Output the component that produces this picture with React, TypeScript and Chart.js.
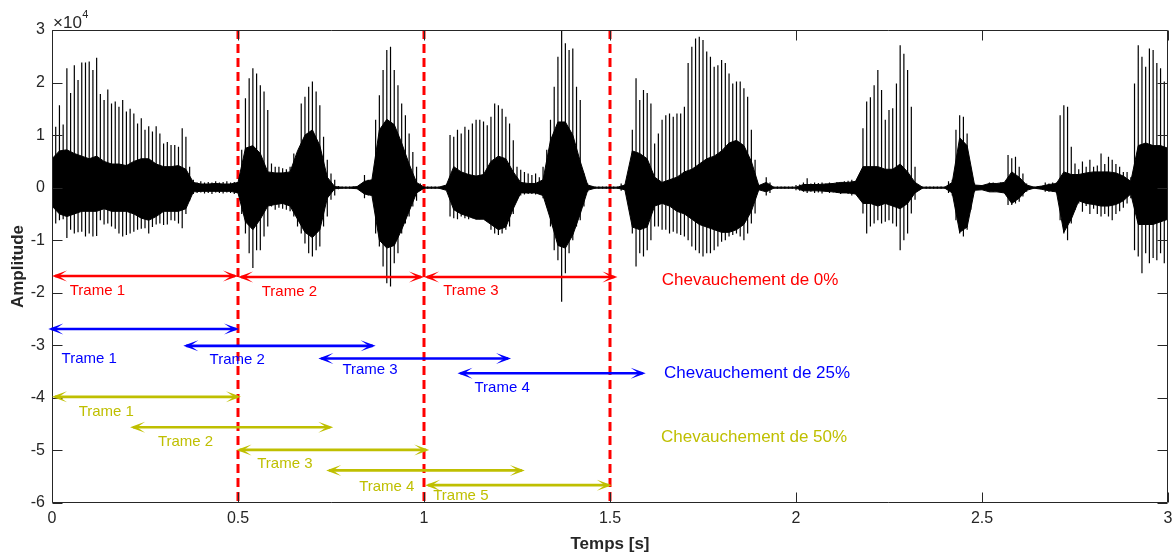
import React, { useEffect, useRef } from 'react';
import { Chart, registerables } from 'chart.js';

Chart.register(...registerables);

// ---- signal (amplitude in units of 10^4) ----
const PEAK_STEP = 0.01; // s between envelope samples
const peakHigh = [
  1.1, 1.16, 1.57, 1.2, 2.27, 1.8, 2.33, 2.05, 2.38, 2.38,
  2.4, 2.24, 2.47, 1.78, 1.67, 1.87, 1.6, 1.64, 1.54, 1.67,
  1.45, 1.5, 1.41, 1.22, 1.32, 1.1, 1.17, 1.07, 1.17, 1.03,
  0.84, 0.87, 0.81, 0.81, 0.78, 1.13, 0.97, 0.4, 0.15, 0.1,
  0.12, 0.1, 0.11, 0.1, 0.12, 0.1, 0.11, 0.12, 0.1, 0.11,
  0.1, 0.72, 1.7, 2.08, 2.27, 2.17, 1.95, 1.83, 1.48, 0.46,
  0.4, 0.4, 0.37, 0.35, 0.4, 0.65, 0.65, 1.6, 1.73, 1.92,
  2.02, 1.83, 1.57, 0.97, 0.53, 0.27, 0.15, 0.03, 0.02, 0.02,
  0.02, 0.02, 0.02, 0.02, 0.24, 0.15, 0.12, 1.29, 1.76, 2.24,
  2.62, 2.68, 2.24, 1.95, 1.6, 1.38, 1.03, 0.68, 0.4, 0.08,
  0.02, 0.02, 0.02, 0.02, 0.02, 0.02, 0.02, 1.0, 0.97, 1.1,
  1.03, 1.16, 1.1, 1.22, 1.29, 1.29, 1.26, 1.19, 1.35, 1.6,
  1.57, 1.5, 1.35, 1.22, 0.9, 0.4, 0.34, 0.3, 0.27, 0.24,
  0.27, 0.2, 0.4, 0.72, 1.29, 1.92, 2.49, 3.2, 2.75, 2.62,
  2.65, 1.92, 1.67, 0.27, 0.08, 0.02, 0.02, 0.02, 0.02, 0.02,
  0.02, 0.02, 0.02, 0.08, 0.06, 0.1, 1.1, 2.08, 1.67, 1.86,
  1.8, 1.6, 0.84, 1.03, 1.29, 1.38, 1.41, 1.35, 1.41, 1.41,
  1.54, 2.37, 2.68, 2.84, 2.87, 2.81, 2.59, 2.49, 2.3, 2.33,
  2.43, 2.37, 2.17, 1.98, 2.02, 2.02, 1.89, 1.73, 1.1, 0.53,
  0.05, 0.02, 0.2, 0.1, 0.02, 0.02, 0.02, 0.02, 0.02, 0.02,
  0.05, 0.06, 0.1, 0.18, 0.08, 0.1, 0.09, 0.1, 0.08, 0.1,
  0.09, 0.11, 0.1, 0.12, 0.13, 0.15, 0.12, 0.15, 1.13, 1.64,
  1.72, 1.95, 2.24, 1.86, 1.29, 1.48, 1.51, 1.98, 2.71, 2.55,
  2.24, 1.54, 0.4, 0.05, 0.02, 0.02, 0.02, 0.02, 0.02, 0.02,
  0.02, 0.12, 0.15, 1.1, 1.38, 1.35, 1.03, 0.34, 0.08, 0.03,
  0.03, 0.03, 0.1, 0.1, 0.08, 0.1, 0.1, 0.62, 0.56, 0.59,
  0.4, 0.27, 0.08, 0.02, 0.02, 0.02, 0.03, 0.1, 0.08, 0.1,
  0.1, 1.38, 1.57, 1.54, 0.78, 0.46, 0.35, 0.5, 0.4, 0.53,
  0.4, 0.42, 0.65, 0.45, 0.59, 0.53, 0.45, 0.4, 0.3, 0.3,
  0.2, 1.98, 2.71, 2.49, 2.3, 2.65, 2.62, 2.37, 2.27, 2.02,
  1.98,
];
const peakLow = [
  -0.45, -0.68, -0.62, -0.6, -0.96, -0.8, -0.87, -0.85, -0.84, -0.93,
  -0.87, -0.93, -0.92, -0.62, -0.7, -0.68, -0.74, -0.78, -0.87, -0.93,
  -0.9, -0.87, -0.84, -0.8, -0.78, -0.77, -0.87, -0.75, -0.7, -0.68,
  -0.71, -0.7, -0.62, -0.63, -0.68, -0.77, -0.5, -0.25, -0.12, -0.1,
  -0.09, -0.11, -0.1, -0.12, -0.09, -0.1, -0.11, -0.09, -0.1, -0.12,
  -0.1, -0.5, -0.87, -1.25, -1.53, -1.19, -1.19, -0.93, -0.74, -0.36,
  -0.42, -0.38, -0.4, -0.42, -0.45, -0.55, -0.74, -0.87, -1.06, -1.25,
  -1.31, -1.19, -1.12, -0.74, -0.55, -0.23, -0.15, -0.03, -0.02, -0.02,
  -0.02, -0.02, -0.02, -0.02, -0.2, -0.15, -0.12, -0.87, -1.12, -1.5,
  -1.82, -1.88, -1.44, -1.25, -0.87, -0.68, -0.55, -0.36, -0.25, -0.06,
  -0.02, -0.02, -0.02, -0.02, -0.02, -0.02, -0.02, -0.55, -0.58, -0.6,
  -0.55, -0.58, -0.6, -0.58, -0.6, -0.6, -0.6, -0.62, -0.8, -0.87,
  -0.9, -0.87, -0.8, -0.74, -0.5, -0.23, -0.15, -0.13, -0.12, -0.12,
  -0.13, -0.12, -0.2, -0.36, -0.74, -1.19, -1.38, -2.17, -1.63, -1.25,
  -1.0, -0.74, -0.62, -0.36, -0.08, -0.02, -0.02, -0.02, -0.02, -0.02,
  -0.02, -0.02, -0.02, -0.06, -0.05, -0.1, -0.87, -1.5, -1.25, -1.31,
  -1.19, -1.0, -0.74, -0.74, -0.8, -0.8, -0.87, -0.84, -0.87, -0.9,
  -0.93, -1.0, -1.12, -1.19, -1.25, -1.31, -1.25, -1.25, -1.19, -1.12,
  -1.03, -1.0, -0.93, -0.9, -0.87, -0.93, -1.0, -0.87, -0.68, -0.49,
  -0.05, -0.02, -0.15, -0.1, -0.02, -0.02, -0.02, -0.02, -0.02, -0.02,
  -0.05, -0.06, -0.08, -0.1, -0.08, -0.1, -0.09, -0.11, -0.08, -0.1,
  -0.09, -0.1, -0.12, -0.1, -0.12, -0.15, -0.12, -0.12, -0.49, -0.87,
  -0.74, -0.68, -0.62, -0.68, -0.65, -0.62, -0.68, -0.74, -1.19, -1.0,
  -0.87, -0.49, -0.23, -0.05, -0.02, -0.02, -0.02, -0.02, -0.02, -0.02,
  -0.02, -0.1, -0.15, -0.62, -0.87, -0.93, -0.8, -0.42, -0.08, -0.03,
  -0.03, -0.03, -0.08, -0.08, -0.08, -0.08, -0.1, -0.33, -0.33, -0.3,
  -0.27, -0.17, -0.08, -0.02, -0.02, -0.02, -0.03, -0.08, -0.08, -0.08,
  -0.1, -0.62, -0.87, -1.0, -0.68, -0.42, -0.3, -0.46, -0.35, -0.5,
  -0.4, -0.5, -0.55, -0.5, -0.55, -0.62, -0.5, -0.45, -0.38, -0.3,
  -0.2, -1.19, -1.31, -1.63, -1.25, -1.44, -1.34, -1.38, -1.25, -1.44,
  -1.0,
];
const CORE_STEP = 0.02; // s between dense-core samples
const coreHigh = [
  0.55, 0.7, 0.72, 0.65, 0.6, 0.55, 0.6, 0.5, 0.45, 0.45,
  0.42, 0.5, 0.55, 0.55, 0.45, 0.4, 0.4, 0.42, 0.35, 0.1,
  0.07, 0.07, 0.08, 0.07, 0.07, 0.1, 0.75, 0.8, 0.65, 0.3,
  0.28, 0.28, 0.3, 0.7, 1.0, 1.1, 0.8, 0.2, 0.02, 0.01,
  0.01, 0.02, 0.12, 0.15, 1.1, 1.3, 1.2, 0.85, 0.45, 0.1,
  0.01, 0.01, 0.01, 0.05, 0.4, 0.3, 0.25, 0.22, 0.25, 0.5,
  0.6, 0.55, 0.3, 0.1, 0.08, 0.08, 0.15, 0.9, 1.25, 1.25,
  1.0, 0.5, 0.05, 0.01, 0.01, 0.01, 0.01, 0.05, 0.7, 0.65,
  0.55, 0.2, 0.1, 0.15, 0.2, 0.3, 0.35, 0.45, 0.55, 0.6,
  0.7, 0.85, 0.9, 0.8, 0.5, 0.04, 0.1, 0.01, 0.01, 0.01,
  0.01, 0.06, 0.06, 0.06, 0.07, 0.08, 0.1, 0.1, 0.12, 0.4,
  0.4, 0.4, 0.35, 0.35, 0.45, 0.3, 0.1, 0.01, 0.01, 0.01,
  0.01, 0.1, 0.95, 0.8, 0.05, 0.04, 0.08, 0.08, 0.1, 0.3,
  0.2, 0.05, 0.01, 0.03, 0.06, 0.08, 0.3, 0.25, 0.25, 0.28,
  0.3, 0.3, 0.3, 0.28, 0.22, 0.12, 0.8, 0.85, 0.8, 0.8,
  0.75,
];
const coreLow = [
  -0.35, -0.5, -0.55, -0.5, -0.45, -0.45, -0.45, -0.4, -0.45, -0.45,
  -0.45, -0.5, -0.58, -0.62, -0.55, -0.45, -0.45, -0.45, -0.4, -0.08,
  -0.07, -0.07, -0.07, -0.07, -0.07, -0.1, -0.65, -0.8, -0.6, -0.35,
  -0.32, -0.3, -0.35, -0.6, -0.85, -0.95, -0.8, -0.2, -0.02, -0.01,
  -0.01, -0.02, -0.12, -0.15, -1.0, -1.15, -1.1, -0.8, -0.45, -0.1,
  -0.01, -0.01, -0.01, -0.05, -0.42, -0.5, -0.55, -0.6, -0.6, -0.7,
  -0.8, -0.75, -0.4, -0.1, -0.1, -0.1, -0.15, -0.6, -1.1, -1.15,
  -0.9, -0.5, -0.05, -0.01, -0.01, -0.01, -0.01, -0.04, -0.75, -0.8,
  -0.75, -0.35, -0.3, -0.35, -0.45, -0.5, -0.6, -0.7, -0.75, -0.8,
  -0.85, -0.85, -0.8, -0.7, -0.45, -0.04, -0.08, -0.01, -0.01, -0.01,
  -0.01, -0.06, -0.06, -0.06, -0.07, -0.08, -0.1, -0.1, -0.12, -0.3,
  -0.3, -0.35, -0.3, -0.35, -0.4, -0.3, -0.1, -0.01, -0.01, -0.01,
  -0.01, -0.1, -0.85, -0.75, -0.05, -0.04, -0.08, -0.08, -0.1, -0.3,
  -0.2, -0.05, -0.01, -0.03, -0.06, -0.08, -0.85, -0.6, -0.25, -0.3,
  -0.32, -0.35, -0.35, -0.32, -0.25, -0.12, -0.7, -0.7, -0.7, -0.65,
  -0.6,
];

// ---- axes ----
const xTickValues = [0, 0.5, 1, 1.5, 2, 2.5, 3];
const yTickValues = [3, 2, 1, 0, -1, -2, -3, -4, -5, -6];

// ---- frame boundaries (red dashed lines) ----
const frameBounds = [0.5, 1.0, 1.5];

// ---- frame arrows (s) and their y position (x10^4) ----
const redStart = [0, 0.5, 1.0];
const redEnd = [0.5, 1.0, 1.52];
const redY = [-1.68, -1.7, -1.7];
const redLabelX = [0.122, 0.638, 1.126];
const redLabelY = [-1.96, -1.99, -1.97];

const blueStart = [-0.01, 0.353, 0.716, 1.09];
const blueEnd = [0.503, 0.87, 1.234, 1.596];
const blueY = [-2.69, -3.01, -3.25, -3.53];
const blueLabelX = [0.1, 0.498, 0.855, 1.21];
const blueLabelY = [-3.25, -3.28, -3.47, -3.81];

const oliveStart = [0, 0.21, 0.496, 0.737, 1.003];
const oliveEnd = [0.508, 0.756, 1.014, 1.271, 1.505];
const oliveY = [-3.98, -4.56, -4.99, -5.38, -5.66];
const oliveLabelX = [0.146, 0.359, 0.626, 0.9, 1.099];
const oliveLabelY = [-4.27, -4.84, -5.25, -5.7, -5.87];

const overlapTexts = ['Chevauchement de 0%', 'Chevauchement de 25%', 'Chevauchement de 50%'];
const overlapX = [1.639, 1.645, 1.637];
const overlapY = [-1.76, -3.54, -4.75];

const RED = '#ff0000';
const BLUE = '#0000ff';
const OLIVE = '#bfbf00';
const AXIS = '#262626';
const FONT = "'Liberation Sans', Arial, Helvetica, sans-serif";

function buildPeaks() {
  const pts: any[] = [];
  peakHigh.forEach((h, i) => {
    const t = i * PEAK_STEP;
    pts.push({ x: t, y: peakLow[i] }, { x: t, y: h }, { x: t, y: null });
  });
  return pts;
}
function buildCore(arr: number[]) {
  return arr.map((v, j) => ({ x: j * CORE_STEP, y: v }));
}
function buildBounds() {
  const pts: any[] = [];
  const top = yTickValues[0];
  const bot = yTickValues[yTickValues.length - 1];
  frameBounds.forEach((b) => {
    pts.push({ x: b, y: top }, { x: b, y: bot }, { x: b, y: null });
  });
  return pts;
}

function drawHead(ctx: CanvasRenderingContext2D, tx: number, ty: number, dir: number) {
  const L = 15, W = 5.5, D = 7;
  ctx.beginPath();
  ctx.moveTo(tx, ty);
  ctx.lineTo(tx - dir * L, ty - W);
  ctx.lineTo(tx - dir * D, ty);
  ctx.lineTo(tx - dir * L, ty + W);
  ctx.closePath();
  ctx.fill();
}

const overlayPlugin = {
  id: 'overlay',
  afterDatasetsDraw(chart: any) {
    const { ctx, chartArea } = chart;
    const xs = chart.scales.x;
    const ys = chart.scales.y;
    const { left, right, top, bottom } = chartArea;
    ctx.save();
    // axes box and inward ticks
    ctx.strokeStyle = AXIS;
    ctx.lineWidth = 1;
    const L = Math.round(left) + 0.5, R = Math.round(right) - 0.5;
    const T = Math.round(top) + 0.5, B = Math.round(bottom) - 0.5;
    ctx.beginPath();
    ctx.rect(L, T, R - L, B - T);
    const TL = 10;
    xTickValues.forEach((v) => {
      const px = Math.round(xs.getPixelForValue(v)) + 0.5;
      ctx.moveTo(px, B); ctx.lineTo(px, B - TL);
      ctx.moveTo(px, T); ctx.lineTo(px, T + TL);
    });
    yTickValues.forEach((v) => {
      const py = Math.round(ys.getPixelForValue(v)) + 0.5;
      ctx.moveTo(L, py); ctx.lineTo(L + TL, py);
      ctx.moveTo(R, py); ctx.lineTo(R - TL, py);
    });
    ctx.stroke();

    // exponent label
    ctx.fillStyle = AXIS;
    ctx.textBaseline = 'alphabetic';
    ctx.textAlign = 'left';
    ctx.font = `17px ${FONT}`;
    const base = '\u00d710';
    ctx.fillText(base, left + 1, top - 2.5);
    const w = ctx.measureText(base).width;
    ctx.font = `11px ${FONT}`;
    ctx.fillText('4', left + 1 + w + 0.5, top - 12);

    // arrows
    const arrows = (s: number[], e: number[], yv: number[], col: string) => {
      ctx.strokeStyle = col;
      ctx.fillStyle = col;
      ctx.lineWidth = 2.6;
      s.forEach((sv, i) => {
        const x1 = xs.getPixelForValue(sv);
        const x2 = xs.getPixelForValue(e[i]);
        const py = ys.getPixelForValue(yv[i]);
        ctx.beginPath();
        ctx.moveTo(x1 + 3, py);
        ctx.lineTo(x2 - 3, py);
        ctx.stroke();
        drawHead(ctx, x1, py, -1);
        drawHead(ctx, x2, py, 1);
      });
    };
    arrows(redStart, redEnd, redY, RED);
    arrows(blueStart, blueEnd, blueY, BLUE);
    arrows(oliveStart, oliveEnd, oliveY, OLIVE);

    // frame labels
    const labels = (lx: number[], ly: number[], col: string) => {
      ctx.fillStyle = col;
      ctx.font = `15px ${FONT}`;
      ctx.textAlign = 'center';
      ctx.textBaseline = 'middle';
      lx.forEach((xv, i) => {
        ctx.fillText('Trame ' + (i + 1), xs.getPixelForValue(xv), ys.getPixelForValue(ly[i]));
      });
    };
    labels(redLabelX, redLabelY, RED);
    labels(blueLabelX, blueLabelY, BLUE);
    labels(oliveLabelX, oliveLabelY, OLIVE);

    const overlapColors = [RED, BLUE, OLIVE];
    ctx.font = `17px ${FONT}`;
    ctx.textAlign = 'left';
    ctx.textBaseline = 'middle';
    overlapTexts.forEach((txt, i) => {
      ctx.fillStyle = overlapColors[i];
      ctx.fillText(txt, xs.getPixelForValue(overlapX[i]), ys.getPixelForValue(overlapY[i]));
    });
    ctx.restore();
  },
};

export default function App() {
  const ref = useRef<HTMLCanvasElement | null>(null);
  useEffect(() => {
    document.body.style.margin = '0';
    const canvas = ref.current;
    if (!canvas) return;
    const tickFont = { family: FONT, size: 16 };
    const titleFont = { family: FONT, size: 17, weight: 'bold' as const };
    const chart = new Chart(canvas, {
      type: 'line',
      data: {
        datasets: [
          {
            label: 'core-high',
            data: buildCore(coreHigh),
            borderColor: '#000000',
            backgroundColor: '#000000',
            borderWidth: 1,
            pointRadius: 0,
            fill: '+1',
            clip: 0,
          },
          {
            label: 'core-low',
            data: buildCore(coreLow),
            borderColor: '#000000',
            backgroundColor: '#000000',
            borderWidth: 1,
            pointRadius: 0,
            fill: false,
            clip: 0,
          },
          {
            label: 'signal',
            data: buildPeaks(),
            borderColor: '#000000',
            borderWidth: 1.2,
            pointRadius: 0,
            fill: false,
            spanGaps: false,
            clip: 0,
          },
          {
            label: 'frames',
            data: buildBounds(),
            borderColor: RED,
            borderWidth: 3,
            borderDash: [9, 5],
            pointRadius: 0,
            fill: false,
            spanGaps: false,
            clip: false as any,
          },
        ] as any,
      },
      options: {
        responsive: false,
        animation: false,
        events: [],
        layout: { padding: { top: 30, right: 5, left: 0, bottom: 0 } },
        plugins: { legend: { display: false }, tooltip: { enabled: false } },
        elements: { line: { tension: 0 } },
        scales: {
          x: {
            type: 'linear',
            min: 0,
            max: 3,
            afterBuildTicks: (s: any) => {
              s.ticks = xTickValues.map((value) => ({ value }));
            },
            afterFit: (s: any) => {
              s.height = 53;
              s.paddingLeft = 0;
              s.paddingRight = 0;
            },
            ticks: {
              font: tickFont,
              color: AXIS,
              padding: 6,
              maxRotation: 0,
              autoSkip: false,
              callback: (v: any) => String(v),
            },
            grid: { display: false, drawTicks: false },
            border: { display: false },
            title: {
              display: true,
              text: 'Temps [s]',
              font: titleFont,
              color: AXIS,
              padding: { top: 0, bottom: 1 },
            },
          },
          y: {
            type: 'linear',
            min: yTickValues[yTickValues.length - 1],
            max: yTickValues[0],
            afterBuildTicks: (s: any) => {
              s.ticks = [...yTickValues].reverse().map((value) => ({ value }));
            },
            afterFit: (s: any) => {
              s.width = 52;
              s.paddingTop = 0;
              s.paddingBottom = 0;
            },
            ticks: {
              font: tickFont,
              color: AXIS,
              padding: 7,
              autoSkip: false,
              callback: (v: any) => String(v),
            },
            grid: { display: false, drawTicks: false },
            border: { display: false },
            title: {
              display: true,
              text: 'Amplitude',
              font: titleFont,
              color: AXIS,
              padding: { top: 8, bottom: 0 },
            },
          },
        },
      },
      plugins: [overlayPlugin],
    } as any);
    return () => chart.destroy();
  }, []);
  return (
    <div style={{ position: 'relative', width: 1173, height: 556 }}>
      <canvas ref={ref} width={1173} height={556} style={{ display: 'block', width: 1173, height: 556 }} />
    </div>
  );
}
